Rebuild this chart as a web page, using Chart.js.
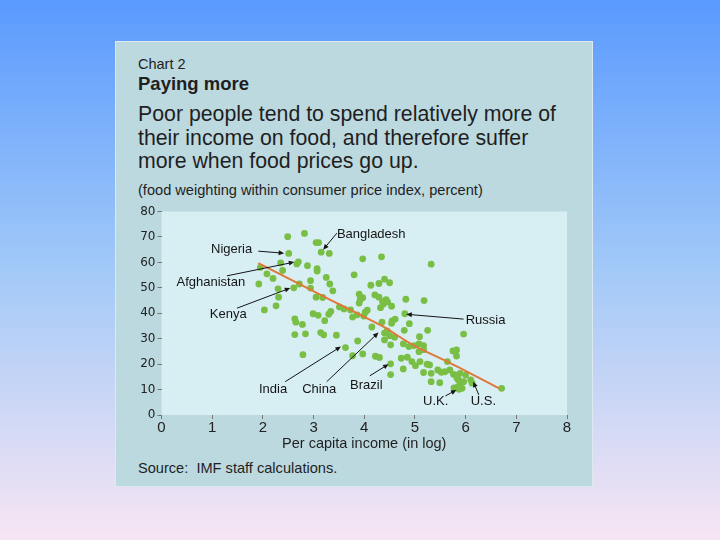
<!DOCTYPE html>
<html>
<head>
<meta charset="utf-8">
<script src="https://cdn.jsdelivr.net/npm/chart.js@4.4.1/dist/chart.umd.min.js"></script>
<style>
html, body { margin: 0; padding: 0; }
body {
  width: 720px; height: 540px; position: relative; overflow: hidden;
  background: linear-gradient(to bottom, #5a9afe 0%, #a2c9f8 50%, #f7e5f3 100%);
  font-family: "Liberation Sans", Arial, sans-serif; color: #1f1f1f;
}
#card { position: absolute; left: 115px; top: 41px; width: 476px; height: 444px; background: #bcd9df; border: 1px solid #dceaf0; }
.t { position: absolute; left: 138px; white-space: nowrap; line-height: 1; }
#chart { position: absolute; left: 0; top: 0; }
</style>
</head>
<body>
<div id="card"></div>
<div class="t" style="top:56.5px;font-size:14.5px">Chart 2</div>
<div class="t" style="top:74.8px;font-size:18.5px;font-weight:bold">Paying more</div>
<div class="t" style="top:103px;font-size:21.3px;line-height:23.7px">Poor people tend to spend relatively more of<br>their income on food, and therefore suffer<br>more when food prices go up.</div>
<div class="t" style="top:183px;font-size:14.6px">(food weighting within consumer price index, percent)</div>
<div class="t" style="top:461px;font-size:14.6px">Source: &nbsp;IMF staff calculations.</div>
<canvas id="chart" width="720" height="540"></canvas>
<script>
// per capita income (log) and food weight in CPI (percent), one entry per country
const incomeLog = [
  2.49, 2.82, 3.05, 3.10, 3.31, 3.15, 2.51, 2.35, 2.70, 2.67, 2.88, 3.07, 3.07, 2.39, 1.95,
  1.92, 2.08, 2.20, 2.30, 2.31, 2.26, 2.03, 2.61, 2.72, 2.94, 3.25, 3.32, 3.38, 2.94, 3.05,
  3.18, 3.34, 3.30, 2.99, 3.09, 3.22, 2.63, 2.65, 2.78, 2.63, 2.84, 3.14, 3.20, 3.45, 2.79,
  3.63, 3.51, 3.60, 3.73, 3.80, 3.90, 3.90, 3.77, 3.87, 3.77,
  3.97, 4.34, 5.32, 4.13, 4.29, 4.40, 4.50, 3.97, 3.92, 4.21, 4.29, 4.36, 4.43, 4.46, 4.32,
  4.38, 4.54, 4.82, 5.18, 4.02, 4.06, 3.99, 3.86, 4.80, 4.89, 4.79, 5.25, 4.61, 4.55, 4.54,
  4.35, 4.15, 4.45, 4.40, 4.50, 4.40, 4.52, 4.60, 5.09, 4.77, 4.88, 4.98, 5.08, 5.17, 5.08,
  5.17, 3.97, 4.22, 4.30, 4.52, 4.52, 4.73, 4.85, 4.77, 4.94, 5.01, 5.10, 5.24, 5.29, 5.17,
  5.32, 5.45, 5.52, 5.59, 5.32, 5.49, 5.69, 5.76, 5.82, 5.89, 6.00, 5.86, 5.91, 5.85, 5.93,
  5.77, 5.75, 5.82, 5.82, 5.64, 5.96, 6.10, 6.13, 6.71, 5.96, 5.83, 5.87
];
const foodWeight = [
  70.1, 71.4, 67.8, 67.8, 63.5, 64.0, 63.5, 59.8, 60.2, 59.4, 58.7, 57.5, 56.6, 56.8, 58.0,
  51.5, 55.5, 53.7, 49.6, 46.3, 42.9, 41.3, 50.0, 51.5, 52.8, 54.1, 51.5, 48.8, 49.9, 46.3,
  46.2, 40.7, 39.6, 39.8, 39.2, 37.1, 37.8, 36.5, 35.6, 31.6, 31.9, 32.4, 31.5, 31.4, 23.7,
  26.5, 42.5, 41.7, 41.3, 55.1, 47.5, 44.0, 38.5, 29.1, 23.3,
  61.4, 62.2, 59.3, 51.0, 51.7, 53.4, 52.0, 46.1, 45.3, 47.2, 46.3, 44.6, 45.3, 44.5, 42.2,
  43.6, 42.8, 45.5, 45.0, 40.4, 41.2, 38.9, 39.4, 39.8, 35.9, 33.3, 33.3, 37.7, 37.0, 36.1,
  36.5, 34.6, 33.1, 32.2, 31.2, 29.5, 27.6, 30.6, 30.8, 28.0, 26.9, 27.3, 28.0, 27.3, 24.9,
  25.7, 24.0, 23.1, 22.6, 20.1, 15.9, 22.3, 22.7, 18.1, 21.0, 19.4, 21.0, 20.0, 19.7, 16.7,
  16.4, 17.7, 16.8, 17.0, 13.1, 12.7, 17.7, 16.0, 15.7, 16.4, 15.7, 13.8, 12.7, 11.1, 10.5,
  10.7, 25.2, 25.6, 23.2, 21.0, 31.8, 13.8, 12.5, 10.5, 13.1, 14.4, 10.1
];
// fitted line
const trendIncome = [1.91, 3.33, 3.99, 4.35, 5.01, 5.64, 6.66];
const trendWeight = [59.7, 45.3, 38.7, 35.0, 27.0, 21.0, 10.5];

const countryNames = ['Nigeria', 'Afghanistan', 'Kenya', 'Bangladesh', 'Russia', 'India', 'China', 'Brazil', 'U.K.', 'U.S.'];

// label layout, in axis units: text spot, arrow tail, arrow head
const labelSpots = [
  {tx: 1.79, ty: 65.0, align: 'right', from: [1.91, 64.4], to: [2.42, 63.6]},
  {tx: 1.65, ty: 52.1, align: 'right', from: [1.29, 54.7], to: [2.62, 60.1]},
  {tx: 1.68, ty: 39.4, align: 'right', from: [1.49, 42.0], to: [2.54, 49.9]},
  {tx: 3.46, ty: 70.9, align: 'left', from: [3.46, 71.5], to: [3.19, 65.0]},
  {tx: 6.00, ty: 37.0, align: 'left', from: [5.96, 37.7], to: [4.83, 39.6]},
  {tx: 2.20, ty: 10.1, align: 'center', from: [2.44, 13.1], to: [3.54, 26.9]},
  {tx: 3.11, ty: 10.1, align: 'center', from: [3.26, 13.1], to: [4.28, 32.4]},
  {tx: 4.04, ty: 11.5, align: 'center', from: [4.11, 15.4], to: [4.48, 20.0]},
  {tx: 5.41, ty: 5.5, align: 'center', from: [5.60, 7.5], to: [5.82, 9.8]},
  {tx: 6.35, ty: 5.5, align: 'center', from: [6.26, 7.9], to: [6.15, 13.1]}
];

function toPoints(xs, ys)
{ return xs.map((x, i) => ({x: x, y: ys[i]})); }

function drawArrow(ctx, x1, y1, x2, y2)
{
    const ang = Math.atan2(y2 - y1, x2 - x1);
    const head = 6;
    ctx.beginPath();
    ctx.moveTo(x1, y1);
    ctx.lineTo(x2 - Math.cos(ang) * head * 0.7, y2 - Math.sin(ang) * head * 0.7);
    ctx.stroke();
    ctx.beginPath();
    ctx.moveTo(x2, y2);
    ctx.lineTo(x2 - head * Math.cos(ang - 0.42), y2 - head * Math.sin(ang - 0.42));
    ctx.lineTo(x2 - head * Math.cos(ang + 0.42), y2 - head * Math.sin(ang + 0.42));
    ctx.closePath();
    ctx.fill();
}

const panelPlugin = {
    id: 'panel',
    beforeDraw(chart) {
        const a = chart.chartArea, ctx = chart.ctx;
        ctx.save();
        ctx.fillStyle = '#d7eef2';
        ctx.fillRect(a.left, a.top, a.right - a.left, a.bottom - a.top);
        ctx.restore();
    }
};

const labelPlugin = {
    id: 'countryLabels',
    afterDatasetsDraw(chart) {
        const ctx = chart.ctx, sx = chart.scales.x, sy = chart.scales.y;
        ctx.save();
        ctx.strokeStyle = '#151515';
        ctx.fillStyle = '#151515';
        ctx.lineWidth = 1;
        ctx.font = '13px "Liberation Sans", Arial, sans-serif';
        ctx.textBaseline = 'middle';
        labelSpots.forEach((s, i) => {
            drawArrow(ctx, sx.getPixelForValue(s.from[0]), sy.getPixelForValue(s.from[1]),
                sx.getPixelForValue(s.to[0]), sy.getPixelForValue(s.to[1]));
            ctx.textAlign = s.align;
            ctx.fillText(countryNames[i], sx.getPixelForValue(s.tx), sy.getPixelForValue(s.ty));
        });
        ctx.restore();
    }
};

new Chart(document.getElementById('chart'), {
    type: 'scatter',
    data: {
        datasets: [
            {
                type: 'line',
                data: toPoints(trendIncome, trendWeight),
                borderColor: '#e2773c',
                borderWidth: 2,
                pointRadius: 0,
                tension: 0.3,
                fill: false
            },
            {
                data: toPoints(incomeLog, foodWeight),
                backgroundColor: '#79bf45',
                borderWidth: 0,
                pointRadius: 3.4
            }
        ]
    },
    options: {
        responsive: false,
        animation: false,
        events: [],
        layout: { padding: { left: 121.5, top: 211.5, right: 153, bottom: 85 } },
        plugins: { legend: { display: false }, tooltip: { enabled: false } },
        scales: {
            x: {
                type: 'linear', min: 0, max: 8,
                afterFit: s => { s.height = 40; },
                ticks: { stepSize: 1, color: '#222', padding: 0, font: { family: 'Liberation Sans', size: 15 } },
                grid: { drawOnChartArea: false, tickLength: 4, color: '#777' },
                border: { display: false },
                title: {
                    display: true, text: 'Per capita income (in log)', color: '#1f1f1f',
                    font: { family: 'Liberation Sans', size: 14.5 }, padding: { top: 0, bottom: 2 }
                }
            },
            y: {
                min: 0, max: 80,
                afterFit: s => { s.width = 40; },
                ticks: { stepSize: 10, color: '#222', padding: 2, font: { family: 'DejaVu Sans', size: 12 } },
                grid: { drawOnChartArea: false, tickLength: 4, color: '#777' },
                border: { display: false }
            }
        }
    },
    plugins: [panelPlugin, labelPlugin]
});
</script>
</body>
</html>
